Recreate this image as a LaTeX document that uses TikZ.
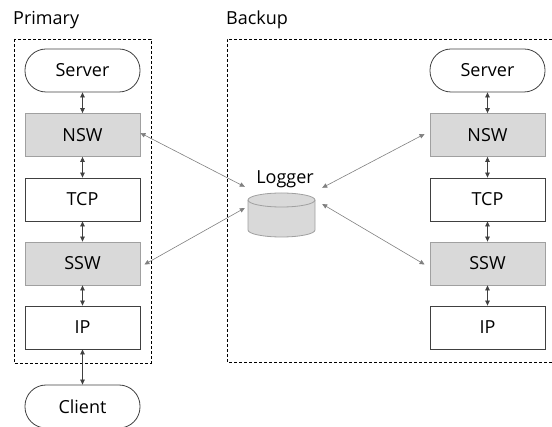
\documentclass[tikz,border=0pt]{standalone}
\usepackage{fontspec}
\setmainfont{Open Sans}
\usetikzlibrary{arrows.meta}
\definecolor{boxgray}{HTML}{D9D9D9}
\definecolor{edgegray}{HTML}{A0A0A0}
\definecolor{dark}{HTML}{404040}
\tikzset{
  x=1pt, y=-1pt,
  every node/.style={font=\fontsize{18}{20}\selectfont},
  plainbox/.style={draw=dark, line width=0.8pt, minimum width=115pt, minimum height=43pt, inner sep=0pt},
  graybox/.style={plainbox, draw=edgegray, fill=boxgray},
  termbox/.style={plainbox, rounded corners=21pt},
  frame/.style={draw=black, line width=0.8pt, dash pattern=on 3pt off 2pt},
  varrow/.style={line width=0.7pt, draw=dark, {Triangle[length=5pt,width=4.5pt]}-{Triangle[length=5pt,width=4.5pt]}},
  darrow/.style={line width=0.6pt, draw=gray, {Triangle[length=5pt,width=4.5pt]}-{Triangle[length=5pt,width=4.5pt]}},
}
\begin{document}
\begin{tikzpicture}
\useasboundingbox (0,0) rectangle (552,427);
% frames
\draw[frame] (14,39) rectangle (151,363);
\draw[frame] (552,39) -- (227,39) -- (227,362) -- (552,362);
\node[anchor=west, inner sep=0pt] (primary) at (13,20) {Primary};
\node[anchor=west, inner sep=0pt] (backup) at (226,20) {Backup};
% left column
\node[termbox] (lserver) at (82.5,70.5) {Server};
\node[graybox] (lnsw) at (82.5,135) {NSW};
\node[plainbox] (ltcp) at (82.5,199.5) {TCP};
\node[graybox] (lssw) at (82.5,263.5) {SSW};
\node[plainbox] (lip) at (82.5,327.5) {IP};
\node[termbox] (client) at (82.5,406.5) {Client};
% right column
\node[termbox] (rserver) at (487.5,70.5) {Server};
\node[graybox] (rnsw) at (487.5,135) {NSW};
\node[plainbox] (rtcp) at (487.5,199.5) {TCP};
\node[graybox] (rssw) at (487.5,263.5) {SSW};
\node[plainbox] (rip) at (487.5,327.5) {IP};
% logger
\node[minimum width=67pt, minimum height=44pt, inner sep=0pt] (logger) at (281.5,215) {};
\draw[draw=edgegray, fill=boxgray, line width=0.8pt]
  (248,200) -- (248,230) arc[start angle=180, end angle=0, x radius=33.5, y radius=7]
  -- (315,200) arc[start angle=360, end angle=180, x radius=33.5, y radius=7] -- cycle;
\draw[draw=edgegray, line width=0.8pt] (248,200) arc[start angle=180, end angle=0, x radius=33.5, y radius=7];
\node[inner sep=0pt] (loggerlabel) at (285,179) {Logger};
% vertical arrows
\foreach \a/\b in {lserver/lnsw, lnsw/ltcp, ltcp/lssw, lssw/lip, lip/client, rserver/rnsw, rnsw/rtcp, rtcp/rssw, rssw/rip}
  \draw[varrow] (\a.south) -- (\b.north);
% diagonal arrows
\draw[darrow] ([yshift=2pt]lnsw.east) -- ([xshift=-3pt,yshift=6pt]logger.north west);
\draw[darrow] ([xshift=4pt,yshift=-1pt]lssw.east) -- ([xshift=-3pt,yshift=7pt]logger.west);
\draw[darrow] ([xshift=-5pt,yshift=1pt]rnsw.west) -- ([xshift=7pt,yshift=5pt]logger.north east);
\draw[darrow] ([xshift=-5pt,yshift=-1pt]rssw.west) -- ([xshift=7pt,yshift=11pt]logger.east);
\end{tikzpicture}
\end{document}
